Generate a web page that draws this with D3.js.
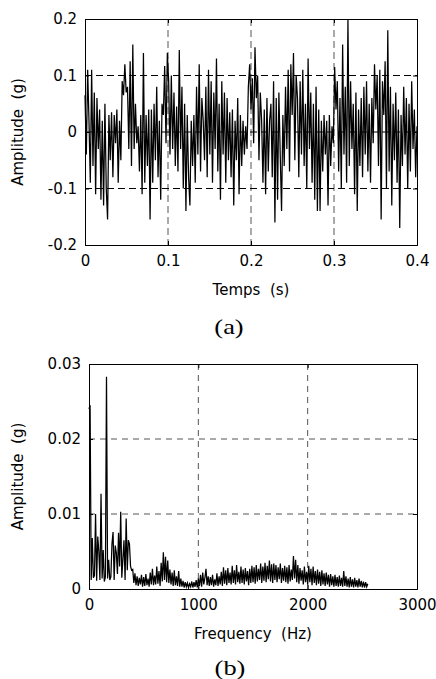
<!DOCTYPE html>
<html>
<head>
<meta charset="utf-8">
<script src="https://cdn.jsdelivr.net/npm/d3@7"></script>
<style>
  body { margin: 0; background: #fff; }
  .tick text { font-family: "DejaVu Sans", sans-serif; font-size: 15px; fill: #000; }
  .axis path, .axis line { stroke: #000; }
  .caption { font-family: "Liberation Serif", "Times New Roman", Times, serif; font-size: 22px; font-weight: normal; }
</style>
</head>
<body>
<div id="plot"></div>
<script>
// Panel (a): acceleration signal, sampled every 1.6 ms
const timeStep = 0.0016;
const timeAmp = [
  0.065, -0.04, 0.11, 0.02, -0.09, 0.11, -0.06, 0.07, -0.11, 0.06,
  -0.03, 0.04, -0.12, 0.02, -0.13, 0.05, -0.10, -0.155, 0.03, -0.05,
  0.035, -0.08, 0.03, -0.02, 0.04, -0.09, 0.02, -0.05, 0.09, 0.065,
  0.12, 0.07, 0.08, -0.03, 0.125, -0.06, 0.155, -0.03, 0.05, -0.02,
  0.01, -0.07, 0.03, -0.11, 0.14, -0.09, 0.03, -0.06, 0.04, -0.155,
  0.04, -0.09, 0.05, -0.05, 0.08, -0.08, 0.02, -0.12, 0.05, 0.03,
  0.117, -0.02, 0.14, 0.09, -0.04, 0.10, -0.03, 0.07, -0.06, 0.045,
  -0.07, 0.145, -0.03, 0.08, -0.10, 0.05, -0.14, 0.03, -0.08, -0.13,
  0.02, -0.06, 0.03, -0.09, 0.08, -0.04, 0.12, -0.07, 0.06, 0.02,
  -0.05, 0.08, -0.08, 0.11, -0.04, 0.09, -0.09, 0.07, -0.03, 0.13,
  -0.07, 0.05, -0.12, 0.09, -0.04, 0.07, -0.09, 0.06, -0.05, 0.035,
  -0.08, 0.04, -0.13, 0.02, -0.05, 0.06, -0.11, 0.03, -0.06, 0.02,
  -0.04, 0.01, -0.03, 0.08, 0.12, 0.04, 0.095, -0.02, 0.15, 0.06,
  0.10, -0.05, 0.07, 0.02, -0.09, 0.04, -0.11, 0.06, -0.07, 0.02,
  0.05, -0.08, 0.09, -0.16, 0.06, -0.12, 0.07, -0.04, -0.14, 0.03,
  -0.06, 0.08, -0.03, 0.11, -0.07, 0.12, 0.03, 0.14, -0.05, 0.10,
  0.06, -0.08, 0.09, -0.04, 0.11, -0.06, 0.05, -0.10, 0.13, -0.03,
  0.07, -0.09, 0.05, -0.12, 0.08, -0.14, 0.04, -0.14, 0.02, -0.07,
  0.03, -0.04, 0.02, -0.13, 0.03, -0.06, 0.01, -0.02, 0.115, 0.04,
  0.09, -0.07, 0.06, -0.10, 0.155, -0.04, 0.08, -0.09, 0.20, -0.06,
  0.09, -0.03, 0.05, -0.11, 0.07, -0.14, 0.04, -0.06, 0.06, -0.08,
  0.08, -0.04, 0.09, -0.07, 0.05, -0.09, 0.06, -0.02, 0.12, 0.04,
  0.10, -0.06, 0.11, -0.155, 0.09, 0.03, 0.125, -0.10, 0.18, -0.07,
  0.08, -0.13, 0.05, -0.05, 0.07, -0.09, 0.04, -0.17, 0.03, -0.06,
  0.08, -0.04, 0.06, -0.10, 0.05, -0.07, 0.09, -0.03, 0.04, -0.08, 0.01
];
const timeTicks = [0, 0.1, 0.2, 0.3, 0.4];
const timeTickLabels = ["0", "0.1", "0.2", "0.3", "0.4"];
const ampTicksA = [-0.2, -0.1, 0, 0.1, 0.2];
const ampTickLabelsA = ["-0.2", "-0.1", "0", "0.1", "0.2"];

// Panel (b): spectrum, one line every 10 Hz
const freqStep = 10;
const specAmp = [
  0.024, 0.0245, 0.0012, 0.0068, 0.0015, 0.0018, 0.0100, 0.0011, 0.0070, 0.0050,
  0.0012, 0.0127, 0.0014, 0.0052, 0.0010, 0.0016, 0.0283, 0.0014, 0.0039, 0.0012,
  0.0016, 0.0060, 0.0076, 0.0012, 0.0058, 0.0048, 0.0020, 0.0075, 0.0030, 0.0103,
  0.0015, 0.0040, 0.0065, 0.0012, 0.0094, 0.0025, 0.0065, 0.0060, 0.0030, 0.0025,
  0.0026, 0.0008, 0.0021, 0.0005, 0.0017, 0.0004, 0.0015, 0.0006, 0.0019, 0.0003,
  0.0016, 0.0004, 0.0020, 0.0005, 0.0014, 0.0003, 0.0022, 0.0006, 0.0027, 0.0005,
  0.0018, 0.0006, 0.0030, 0.0007, 0.0024, 0.0004, 0.0035, 0.0010, 0.0049, 0.0012,
  0.0043, 0.0009, 0.0038, 0.0008, 0.0026, 0.0006, 0.0022, 0.0004, 0.0025, 0.0005,
  0.0017, 0.0004, 0.0024, 0.0003, 0.0014, 0.0003, 0.0011, 0.0002, 0.0009, 0.0003,
  0.0008, 0.0002, 0.0007, 0.0003, 0.0010, 0.0002, 0.0009, 0.0003, 0.0012, 0.0002,
  0.0014, 0.0004, 0.0019, 0.0003, 0.0022, 0.0006, 0.0015, 0.0027, 0.0005, 0.0017,
  0.0004, 0.0016, 0.0005, 0.0019, 0.0003, 0.0013, 0.0005, 0.0021, 0.0004, 0.0017,
  0.0006, 0.0023, 0.0004, 0.0029, 0.0007, 0.0025, 0.0005, 0.0028, 0.0008, 0.0022,
  0.0006, 0.0031, 0.0008, 0.0025, 0.0006, 0.0032, 0.0009, 0.0023, 0.0007, 0.0030,
  0.0008, 0.0026, 0.0006, 0.0028, 0.0010, 0.0024, 0.0005, 0.0027, 0.0008, 0.0031,
  0.0009, 0.0029, 0.0007, 0.0032, 0.0010, 0.0027, 0.0012, 0.0034, 0.0008, 0.0030,
  0.0011, 0.0035, 0.0009, 0.0031, 0.0013, 0.0038, 0.0010, 0.0033, 0.0008, 0.0034,
  0.0012, 0.0032, 0.0009, 0.0029, 0.0013, 0.0034, 0.0008, 0.0028, 0.0011, 0.0031,
  0.0009, 0.0029, 0.0007, 0.0032, 0.0010, 0.0026, 0.0012, 0.0044, 0.0014, 0.0039,
  0.0009, 0.0032, 0.0007, 0.0028, 0.0011, 0.0025, 0.0006, 0.0030, 0.0009, 0.0023,
  0.0006, 0.0031, 0.0009, 0.0027, 0.0005, 0.0030, 0.0008, 0.0024, 0.0005, 0.0026,
  0.0007, 0.0023, 0.0004, 0.0025, 0.0006, 0.0021, 0.0004, 0.0022, 0.0006, 0.0019,
  0.0003, 0.0020, 0.0005, 0.0017, 0.0003, 0.0019, 0.0004, 0.0016, 0.0003, 0.0018,
  0.0004, 0.0015, 0.0003, 0.0024, 0.0004, 0.0017, 0.0003, 0.0014, 0.0002, 0.0016,
  0.0003, 0.0013, 0.0002, 0.0015, 0.0003, 0.0012, 0.0002, 0.0014, 0.0003, 0.0011,
  0.0002, 0.0010, 0.0002, 0.0009, 0.0003, 0.0007
];
const freqTicks = [0, 1000, 2000, 3000];
const freqTickLabels = ["0", "1000", "2000", "3000"];
const ampTicksB = [0, 0.01, 0.02, 0.03];
const ampTickLabelsB = ["0", "0.01", "0.02", "0.03"];

const svg = d3.select("#plot")
  .append("svg")
  .attr("width", 436)
  .attr("height", 679);

function drawPanel(opt) {
  const x = d3.scaleLinear().domain(opt.xDomain).range([opt.left, opt.right]);
  const y = d3.scaleLinear().domain(opt.yDomain).range([opt.bottom, opt.top]);
  const g = svg.append("g");

  // dashed grid
  g.selectAll(".vgrid")
    .data(opt.xTicks.slice(1, -1))
    .enter().append("line")
    .attr("x1", d => x(d)).attr("x2", d => x(d))
    .attr("y1", opt.top).attr("y2", opt.bottom)
    .attr("stroke", opt.vGridColor)
    .attr("stroke-dasharray", opt.dash);
  g.selectAll(".hgrid")
    .data(opt.yTicks.slice(1, -1))
    .enter().append("line")
    .attr("x1", opt.left).attr("x2", opt.right)
    .attr("y1", d => y(d)).attr("y2", d => y(d))
    .attr("stroke", opt.hGridColor)
    .attr("stroke-dasharray", opt.dash);

  // signal
  const line = d3.line()
    .x((d, i) => x(i * opt.step))
    .y(d => y(d));
  g.append("path")
    .datum(opt.values)
    .attr("fill", "none")
    .attr("stroke", "#000")
    .attr("stroke-width", 1.25)
    .attr("d", line);

  // axes with inward ticks
  g.append("g").attr("class", "axis")
    .attr("transform", `translate(0,${opt.bottom})`)
    .call(d3.axisBottom(x).tickValues(opt.xTicks)
      .tickFormat((d, i) => opt.xLabels[i]).tickSize(-4).tickPadding(10));
  g.append("g").attr("class", "axis")
    .attr("transform", `translate(0,${opt.top})`)
    .call(d3.axisTop(x).tickValues(opt.xTicks).tickFormat("").tickSize(-4));
  g.append("g").attr("class", "axis")
    .attr("transform", `translate(${opt.left},0)`)
    .call(d3.axisLeft(y).tickValues(opt.yTicks)
      .tickFormat((d, i) => opt.yLabels[i]).tickSize(-4).tickPadding(opt.yPad));
  g.append("g").attr("class", "axis")
    .attr("transform", `translate(${opt.right},0)`)
    .call(d3.axisRight(y).tickValues(opt.yTicks).tickFormat("").tickSize(-4));

  // axis titles
  g.append("text")
    .attr("x", (opt.left + opt.right) / 2)
    .attr("y", opt.xTitleY)
    .attr("text-anchor", "middle")
    .style("font-family", "DejaVu Sans, sans-serif")
    .style("font-size", "15px")
    .style("white-space", "pre")
    .text(opt.xTitle);
  g.append("text")
    .attr("transform", `translate(23,${(opt.top + opt.bottom) / 2}) rotate(-90)`)
    .attr("text-anchor", "middle")
    .style("font-family", "DejaVu Sans, sans-serif")
    .style("font-size", "15px")
    .style("white-space", "pre")
    .text("Amplitude  (g)");
  g.append("text")
    .attr("class", "caption")
    .attr("transform", `translate(${opt.captionX},${opt.captionY}) scale(1.2,1)`)
    .attr("text-anchor", "middle")
    .text(opt.caption);
}

drawPanel({
  values: timeAmp, step: timeStep,
  xDomain: [0, 0.4], yDomain: [-0.2, 0.2],
  left: 85, right: 417, top: 19, bottom: 245,
  xTicks: timeTicks, xLabels: timeTickLabels,
  yTicks: ampTicksA, yLabels: ampTickLabelsA, yPad: 8,
  vGridColor: "#555", hGridColor: "#000", dash: "7,4",
  xTitle: "Temps  (s)", xTitleY: 295,
  caption: "(a)", captionX: 229, captionY: 334
});

drawPanel({
  values: specAmp, step: freqStep,
  xDomain: [0, 3000], yDomain: [0, 0.03],
  left: 89, right: 417, top: 364, bottom: 589,
  xTicks: freqTicks, xLabels: freqTickLabels,
  yTicks: ampTicksB, yLabels: ampTickLabelsB, yPad: 8,
  vGridColor: "#555", hGridColor: "#555", dash: "6,5",
  xTitle: "Frequency  (Hz)", xTitleY: 639,
  caption: "(b)", captionX: 230, captionY: 675
});
</script>
</body>
</html>
